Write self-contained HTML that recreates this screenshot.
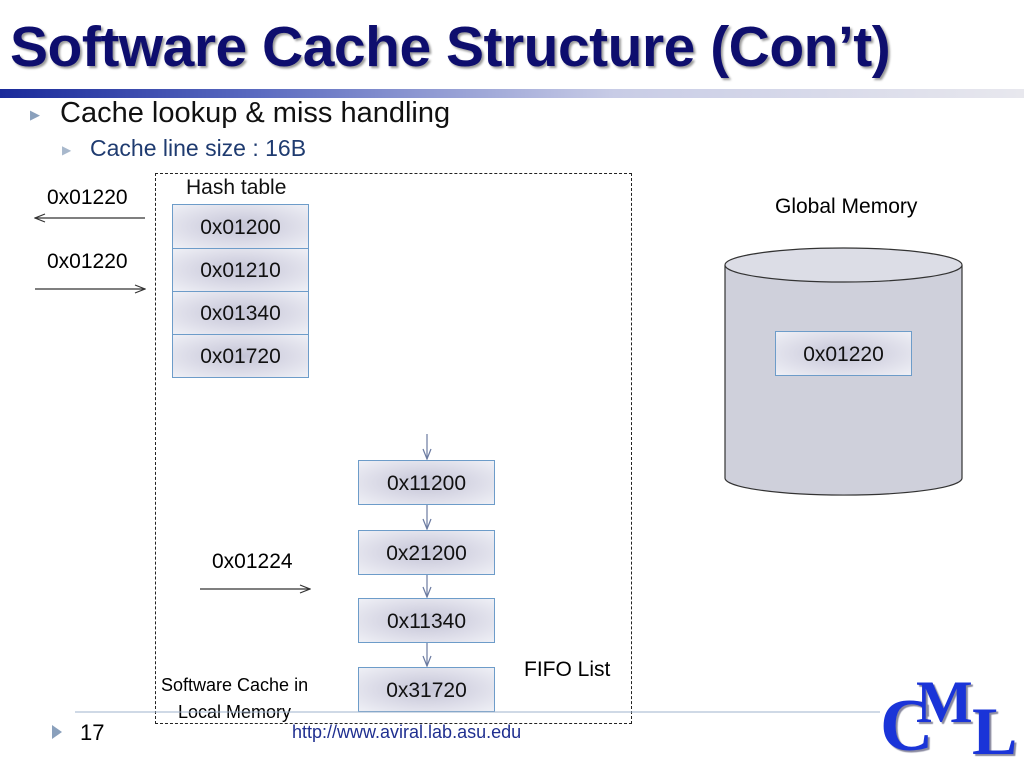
<!DOCTYPE html>
<html><head><style>
body{margin:0;width:1024px;height:768px;background:#fff;position:relative;overflow:hidden;font-family:"Liberation Sans",sans-serif}
.a{position:absolute;white-space:nowrap}
.bx{position:absolute;width:137px;border:1px solid #6d9cc9;background:radial-gradient(ellipse at center,#c4c4d6 0%,#dcdce8 55%,#eff0f6 100%);box-sizing:border-box;text-align:center;font-size:21px;color:#111}
</style></head><body>
<div class="a" style="left:10px;top:14px;font-size:57px;font-weight:bold;color:#0e0e6e;letter-spacing:-0.5px;text-shadow:2px 2px 2px #999">Software Cache Structure (Con’t)</div>
<div class="a" style="left:0;top:89px;width:1024px;height:9px;background:linear-gradient(to right,#1a2a9a 0%,#5a6ac0 25%,#c8cce6 60%,#e8e8ee 100%)"></div>
<div class="a" style="left:30px;top:107px;font-size:13px;color:#8aa0bc">▶</div>
<div class="a" style="left:60px;top:97px;font-size:29px;color:#111">Cache lookup &amp; miss handling</div>
<div class="a" style="left:62px;top:143px;font-size:12px;color:#a8b8cc">▶</div>
<div class="a" style="left:90px;top:135px;font-size:23px;color:#1f3b70">Cache line size : 16B</div>
<div class="a" style="left:155px;top:173px;width:477px;height:551px;border:1.5px dashed #222;box-sizing:border-box"></div>
<div class="a" style="left:186px;top:176px;font-size:21px;color:#111">Hash table</div>
<div class="bx" style="left:172px;top:204px;height:45px;line-height:45px">0x01200</div>
<div class="bx" style="left:172px;top:248px;height:44px;line-height:44px">0x01210</div>
<div class="bx" style="left:172px;top:291px;height:44px;line-height:44px">0x01340</div>
<div class="bx" style="left:172px;top:334px;height:44px;line-height:44px">0x01720</div>
<div class="bx" style="left:358px;top:460px;height:45px;line-height:45px">0x11200</div>
<div class="bx" style="left:358px;top:530px;height:45px;line-height:45px">0x21200</div>
<div class="bx" style="left:358px;top:598px;height:45px;line-height:45px">0x11340</div>
<div class="bx" style="left:358px;top:667px;height:45px;line-height:45px">0x31720</div>
<div class="a" style="left:47px;top:186px;font-size:21px">0x01220</div>
<div class="a" style="left:47px;top:250px;font-size:21px">0x01220</div>
<div class="a" style="left:212px;top:550px;font-size:21px">0x01224</div>
<div class="a" style="left:524px;top:658px;font-size:21px">FIFO List</div>
<div class="a" style="left:161px;top:672px;font-size:18px;text-align:center;line-height:27px">Software Cache in<br>Local Memory</div>
<div class="a" style="left:775px;top:195px;font-size:21px">Global Memory</div>
<svg class="a" style="left:0;top:0" width="1024" height="768">
<defs><marker id="m" markerWidth="12" markerHeight="10" refX="11" refY="5" orient="auto" markerUnits="userSpaceOnUse"><path d="M1,1 L11,5 L1,9" fill="none" stroke="#333" stroke-width="1.2"/></marker>
<marker id="m2" markerWidth="12" markerHeight="10" refX="11" refY="5" orient="auto" markerUnits="userSpaceOnUse"><path d="M1,1 L11,5 L1,9" fill="none" stroke="#6a7aa0" stroke-width="1.2"/></marker></defs>
<line x1="145" y1="218" x2="35" y2="218" stroke="#333" stroke-width="1.2" marker-end="url(#m)"/>
<line x1="35" y1="289" x2="145" y2="289" stroke="#333" stroke-width="1.2" marker-end="url(#m)"/>
<line x1="200" y1="589" x2="310" y2="589" stroke="#333" stroke-width="1.2" marker-end="url(#m)"/>
<g stroke="#6a7aa0" stroke-width="1.2" marker-end="url(#m2)">
<line x1="427" y1="434" x2="427" y2="459"/>
<line x1="427" y1="505" x2="427" y2="529"/>
<line x1="427" y1="575" x2="427" y2="597"/>
<line x1="427" y1="643" x2="427" y2="666"/>
</g>
<path d="M725,265 L725,478 A118,17 0 0 0 962,478 L962,265" fill="#cfd0db" stroke="#333" stroke-width="1.2"/>
<ellipse cx="843.5" cy="265" rx="118.5" ry="17" fill="#dcdde6" stroke="#333" stroke-width="1.2"/>
<line x1="75" y1="712" x2="880" y2="712" stroke="#9fb3cc" stroke-width="1"/>
<path d="M52,725 L62,732 L52,739Z" fill="#8aa0bc"/>
</svg>
<div class="bx" style="left:775px;top:331px;height:45px;line-height:45px">0x01220</div>
<div class="a" style="left:80px;top:720px;font-size:22px">17</div>
<div class="a" style="left:292px;top:722px;font-size:18px;color:#1f2f90">http://www.aviral.lab.asu.edu</div>
<div class="a" style="left:880px;top:684px;font-family:'Liberation Serif',serif;font-weight:bold;font-size:74px;color:#1a34d8;text-shadow:2px 2px 1px #8a8aa0">C</div>
<div class="a" style="left:916px;top:668px;font-family:'Liberation Serif',serif;font-weight:bold;font-size:60px;color:#1a34d8;text-shadow:2px 2px 1px #8a8aa0">M</div>
<div class="a" style="left:972px;top:692px;font-family:'Liberation Serif',serif;font-weight:bold;font-size:68px;color:#1a34d8;text-shadow:2px 2px 1px #8a8aa0">L</div>
</body></html>
